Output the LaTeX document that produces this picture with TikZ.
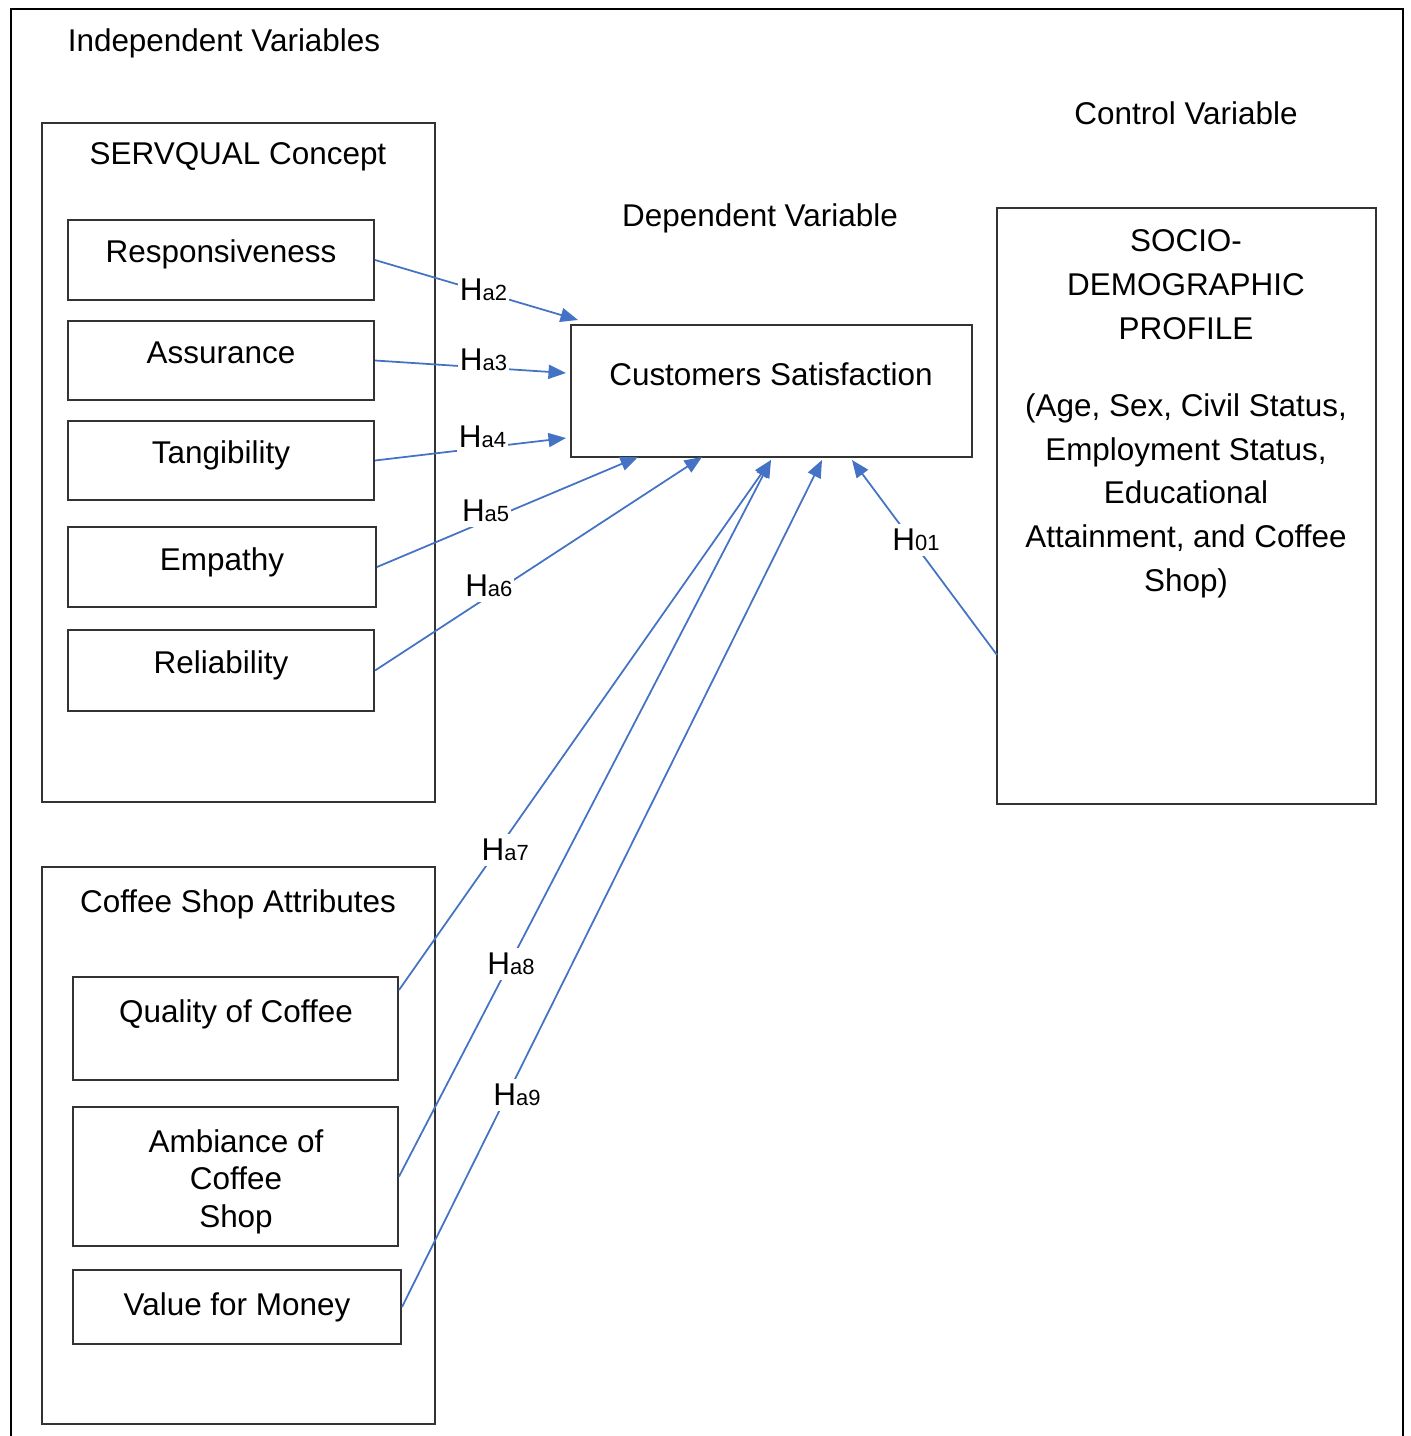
\documentclass[tikz,border=0pt]{standalone}
\usepackage{fontspec}
\setmainfont{Liberation Sans}
\usepackage{tikz}
\usetikzlibrary{calc, positioning, arrows.meta}
\definecolor{hypblue}{HTML}{4472C4}
\tikzset{>={Triangle[length=0.35cm,width=0.28cm]}}
\tikzset{
  framebox/.style={draw=black!80, line width=1.2pt, inner sep=0pt},
  itembox/.style={framebox, text height=0.45cm, text depth=0.33cm},
  hyp/.style={->, hypblue, line width=1pt},
  hlab/.style={fill=white, text=black, inner xsep=1pt, inner ysep=3pt},
  title/.style={anchor=base, inner sep=0pt},
}
\newcommand{\hy}[1]{H{\fontsize{12.5}{12.5}\selectfont #1}}

\begin{document}
\begin{tikzpicture}[x=0.02cm, y=-0.02cm, font=\fontsize{17.9}{25}\selectfont]
	\useasboundingbox (0,0) rectangle (1410,1436);
	\draw [line width=1.5pt] (11,1436) -- (11,9) -- (1403,9) -- (1403,1436);
	% headings
	\node[title] (indep) at (224,52) {Independent Variables};
	\node[title] (dep) at (760,227) {Dependent Variable};
	\node[title] (ctrl) at (1186,125) {Control Variable};
	% SERVQUAL group
	\node[framebox, minimum width=7.86cm, minimum height=13.58cm] (serv) at (238.5,462.5) {};
	\node[title] (servtxt) at (238,165) {SERVQUAL Concept};
	\node[itembox, minimum width=6.12cm, minimum height=1.6cm] (resp) at (221,260) {Responsiveness};
	\node[itembox, minimum width=6.12cm, minimum height=1.58cm] (assur) at (221,360.5) {Assurance};
	\node[itembox, minimum width=6.12cm, minimum height=1.58cm] (tang) at (221,460.5) {Tangibility};
	\node[itembox, minimum width=6.16cm, minimum height=1.6cm] (emp) at (222,567) {Empathy};
	\node[itembox, minimum width=6.12cm, minimum height=1.62cm] (rel) at (221,670.5) {Reliability};
	% coffee shop group
	\node[framebox, minimum width=7.86cm, minimum height=11.14cm] (shop) at (238.5,1145.5) {};
	\node[title] (shoptxt) at (238,912) {Coffee Shop Attributes};
	\node[framebox, minimum width=6.5cm, minimum height=2.06cm] (qual) at (235.5,1028.5) {};
	\node[title] (qualtxt) at (236,1022) {Quality of Coffee};
	\node[framebox, minimum width=6.5cm, minimum height=2.78cm] (amb) at (235.5,1176.5) {};
	\node[anchor=north, inner sep=0pt, align=center,
		font=\fontsize{17.9}{21.5}\selectfont] (ambtxt) at (236,1129) {Ambiance of\\Coffee\\Shop};
	\node[framebox, minimum width=6.56cm, minimum height=1.48cm] (val) at (237,1307) {Value for Money};
	% dependent and control
	\node[framebox, minimum width=8.02cm, minimum height=2.64cm] (cs) at (771.5,391) {};
	\node[title] (cstxt) at (771,385) {Customers Satisfaction};
	\node[framebox, minimum width=7.58cm, minimum height=11.92cm] (socio) at (1186.5,506) {};
	\node[anchor=north, inner sep=0pt, align=center] (sociotxt) at (1186,229)
		{SOCIO-\\DEMOGRAPHIC\\PROFILE\\[0.66cm](Age, Sex, Civil Status,\\Employment Status,\\Educational\\Attainment, and Coffee\\Shop)};
	% arrow ends
	\coordinate (t2) at (578,320);
	\coordinate (t3) at (566,373);
	\coordinate (t4) at (566,438);
	\coordinate (t5) at (638,457);
	\coordinate (t6) at (702,457);
	\coordinate (t7) at (771,460);
	\coordinate (t9) at (822,460);
	\coordinate (t0) at (852,460);
	\coordinate (q7) at (399,990);
	\coordinate (s0) at (997,655);
	% hypotheses
	\draw[hyp] (resp.east) -- node[hlab, pos=0.534, yshift=0.05cm] (h2) {\hy{a2}} (t2);
	\draw[hyp] (assur.east) -- node[hlab, pos=0.568, yshift=0.16cm] (h3) {\hy{a3}} (t3);
	\draw[hyp] (tang.east) -- node[hlab, pos=0.5625, yshift=0.22cm] (h4) {\hy{a4}} (t4);
	\draw[hyp] (emp.east) -- node[hlab, pos=0.416, yshift=0.2cm] (h5) {\hy{a5}} (t5);
	\draw[hyp] (rel.east) -- node[hlab, pos=0.348, yshift=0.2cm] (h6) {\hy{a6}} (t6);
	\draw[hyp] (q7) -- node[hlab, pos=0.264, xshift=0.16cm] (h7) {\hy{a7}} (t7);
	\draw[hyp] (amb.east) -- node[hlab, pos=0.301, yshift=-0.06cm] (h8) {\hy{a8}} (t7);
	\draw[hyp] (val.east) -- node[hlab, pos=0.25, xshift=0.2cm] (h9) {\hy{a9}} (t9);
	\draw[hyp] (s0) -- node[hlab, pos=0.559, yshift=0.12cm] (h0) {\hy{01}} (t0);
\end{tikzpicture}
\end{document}
